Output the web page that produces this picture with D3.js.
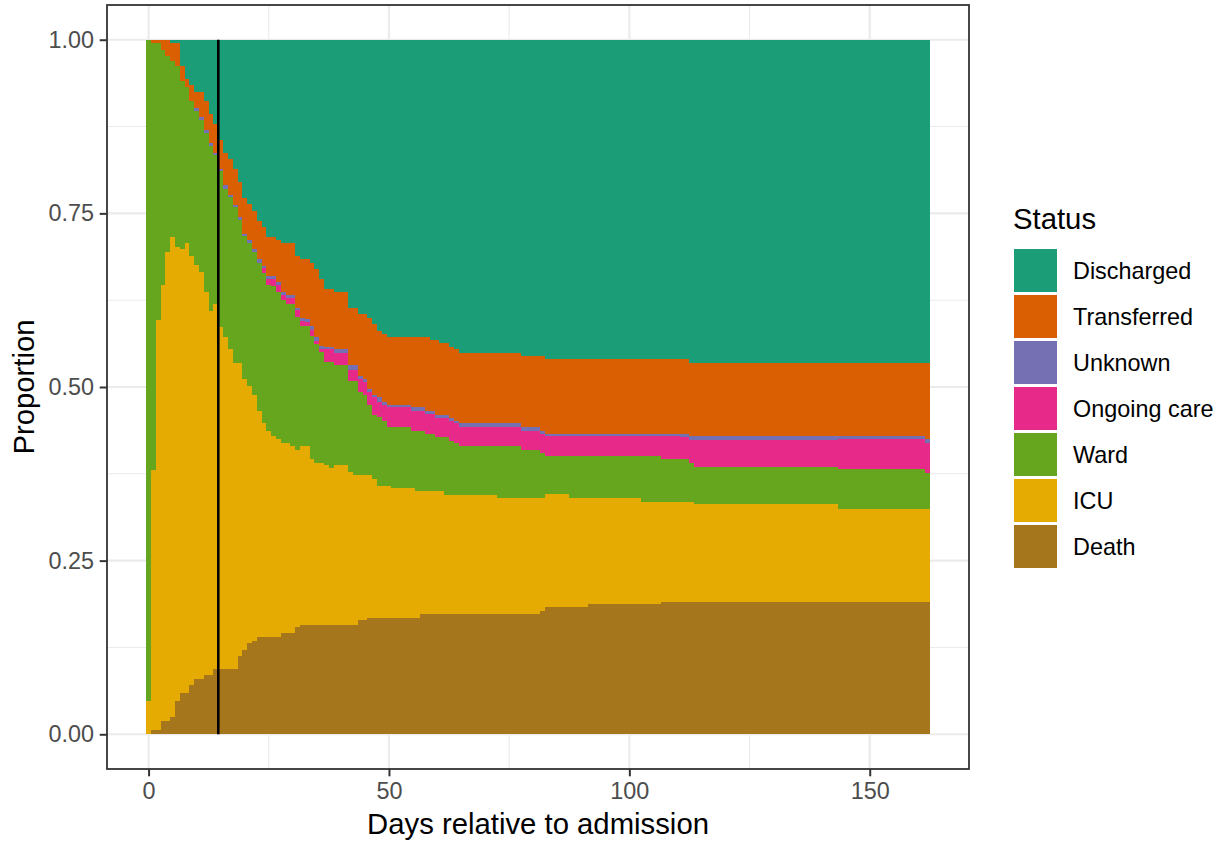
<!DOCTYPE html>
<html>
<head>
<meta charset="utf-8">
<script src="https://cdn.jsdelivr.net/npm/d3@7"></script>
<style>
body{margin:0;background:#fff}
text{font-family:"Liberation Sans",Arial,sans-serif}
</style>
</head>
<body>
<svg id="chart" width="1227" height="844"></svg>
<script>
// legend order (top to bottom) and stacking order (bottom to top)
const statuses = ["Discharged","Transferred","Unknown","Ongoing care","Ward","ICU","Death"];
const stackOrder = ["Death","ICU","Ward","Ongoing care","Unknown","Transferred","Discharged"];
const colours = ["#1B9E77","#D95F02","#7570B3","#E7298A","#66A61E","#E6AB02","#A6761D"];
const dayCount = 163;
const xTicks = [0,50,100,150];
const yTicks = [0,0.25,0.5,0.75,1];
const cutoffDay = 14.5;

// cumulative proportion at the top of each status, as [first day, value] steps
const deathTop = [[0,0],[1,0.006],[3,0.019],[5,0.0245],[6,0.0475],[7,0.060],[9,0.0705],[10,0.079],[12,0.085],[14,0.0935],[19,0.112],[20,0.122],[21,0.131],[22,0.135],[23,0.1395],[28,0.1453],[31,0.154],[32,0.158],[44,0.164],[46,0.168],[57,0.1727],[82,0.177],[83,0.1827],[92,0.187],[107,0.191]];
const icuTop = [[0,0.048],[1,0.381],[2,0.596],[3,0.6475],[4,0.694],[5,0.7166],[6,0.702],[7,0.698],[8,0.708],[9,0.688],[10,0.675],[11,0.666],[12,0.637],[13,0.610],[14,0.619],[15,0.587],[16,0.5727],[17,0.554],[18,0.535],[20,0.512],[21,0.502],[22,0.489],[23,0.466],[24,0.4475],[25,0.437],[26,0.4288],[27,0.4245],[28,0.4187],[30,0.4144],[31,0.41],[32,0.4144],[34,0.3957],[35,0.391],[37,0.387],[38,0.3827],[39,0.387],[42,0.3774],[43,0.3727],[47,0.367],[48,0.358],[51,0.354],[56,0.3496],[62,0.3439],[73,0.3396],[83,0.3453],[88,0.3396],[103,0.335],[114,0.331],[144,0.325]];
const wardTop = [[0,1],[1,0.995],[3,0.9856],[4,0.977],[5,0.9688],[6,0.962],[7,0.940],[8,0.932],[9,0.912],[10,0.898],[11,0.8844],[12,0.866],[13,0.8465],[14,0.8335],[15,0.8105],[16,0.7856],[17,0.773],[18,0.7587],[19,0.740],[20,0.717],[21,0.708],[22,0.694],[23,0.679],[24,0.6643],[25,0.647],[26,0.645],[27,0.6374],[28,0.625],[29,0.619],[31,0.601],[32,0.5875],[34,0.573],[35,0.562],[36,0.550],[37,0.5357],[39,0.532],[42,0.508],[44,0.4935],[45,0.4888],[46,0.4744],[47,0.46],[48,0.457],[49,0.4514],[50,0.4417],[55,0.437],[58,0.433],[60,0.4273],[61,0.428],[63,0.4225],[64,0.4187],[65,0.4144],[78,0.410],[82,0.4053],[83,0.400],[107,0.3957],[113,0.3909],[114,0.385],[144,0.3813],[162,0.3765]];
const ongoingTop = [[24,0.671],[25,0.6557],[27,0.647],[28,0.6326],[29,0.6288],[31,0.6105],[32,0.5952],[33,0.594],[34,0.5818],[35,0.5665],[36,0.554],[39,0.549],[42,0.525],[44,0.5118],[45,0.507],[46,0.4935],[47,0.4849],[48,0.4791],[49,0.4744],[50,0.4705],[55,0.4657],[58,0.4609],[60,0.456],[63,0.4513],[64,0.4475],[65,0.4417],[78,0.437],[82,0.433],[83,0.4288],[111,0.4283],[113,0.423],[144,0.4245],[162,0.4187]];
const unknownTop = [[10,0.902],[11,0.8888],[12,0.8705],[13,0.851],[14,0.837],[15,0.814],[16,0.791],[17,0.777],[18,0.7626],[19,0.745],[20,0.721],[21,0.712],[22,0.698],[23,0.6844],[24,0.6748],[25,0.6604],[26,0.660],[27,0.6518],[28,0.6374],[29,0.6326],[31,0.6144],[32,0.600],[33,0.598],[34,0.5875],[35,0.572],[36,0.5587],[37,0.5578],[39,0.554],[42,0.531],[44,0.5165],[45,0.5118],[46,0.4974],[47,0.4888],[48,0.4849],[49,0.4791],[50,0.4744],[55,0.4705],[58,0.4657],[60,0.46],[63,0.456],[64,0.4513],[65,0.4475],[78,0.4427],[82,0.437],[83,0.433],[113,0.4288],[162,0.4245]];
const transferredTop = [[0,1],[5,0.995],[7,0.9626],[8,0.9434],[9,0.9348],[10,0.9252],[12,0.912],[13,0.8935],[14,0.879],[15,0.856],[16,0.837],[17,0.828],[18,0.814],[19,0.7957],[20,0.772],[21,0.764],[22,0.7535],[23,0.739],[24,0.7305],[25,0.716],[27,0.712],[28,0.7075],[31,0.689],[32,0.6844],[34,0.6786],[35,0.670],[36,0.6557],[37,0.6413],[39,0.6374],[42,0.6144],[44,0.6058],[46,0.600],[47,0.5914],[48,0.5808],[49,0.577],[50,0.5722],[59,0.5683],[61,0.5636],[63,0.558],[64,0.554],[65,0.549],[78,0.5453],[83,0.5396],[113,0.5348]];

// value held on a given day (null before the first step)
const valueOn = (steps, day) => {
  let v = null;
  for (const [d0, val] of steps) if (d0 <= day) v = val;
  return v;
};

const rows = d3.range(dayCount).map(day => {
  const D = valueOn(deathTop, day), I = valueOn(icuTop, day), W = valueOn(wardTop, day);
  const O = valueOn(ongoingTop, day) ?? W;
  const U = valueOn(unknownTop, day) ?? O;
  const T = valueOn(transferredTop, day);
  return {day, "Death": D, "ICU": I - D, "Ward": W - I, "Ongoing care": O - W,
          "Unknown": U - O, "Transferred": T - U, "Discharged": 1 - T};
});

const panel = {left:107, right:969, top:5, bottom:769};
const svg = d3.select("#chart");

const x = d3.scaleLinear().domain([-8.65, 170.65]).range([panel.left, panel.right]);
const y = d3.scaleLinear().domain([-0.05, 1.05]).range([panel.bottom, panel.top]);
const colour = d3.scaleOrdinal().domain(statuses).range(colours);

// grid
const grid = svg.append("g");
[25,75,125].forEach(v => grid.append("line").attr("x1",x(v)).attr("x2",x(v)).attr("y1",panel.top).attr("y2",panel.bottom)
  .attr("stroke","#EBEBEB").attr("stroke-width",1.1));
[0.125,0.375,0.625,0.875].forEach(v => grid.append("line").attr("y1",y(v)).attr("y2",y(v)).attr("x1",panel.left).attr("x2",panel.right)
  .attr("stroke","#EBEBEB").attr("stroke-width",1.1));
xTicks.forEach(v => grid.append("line").attr("x1",x(v)).attr("x2",x(v)).attr("y1",panel.top).attr("y2",panel.bottom)
  .attr("stroke","#EBEBEB").attr("stroke-width",2.2));
yTicks.forEach(v => grid.append("line").attr("y1",y(v)).attr("y2",y(v)).attr("x1",panel.left).attr("x2",panel.right)
  .attr("stroke","#EBEBEB").attr("stroke-width",2.2));

// stacked bars
const series = d3.stack().keys(stackOrder)(rows);
svg.append("g").attr("shape-rendering","crispEdges")
  .selectAll("g").data(series).join("g")
  .attr("fill", s => colour(s.key))
  .selectAll("rect").data(s => s.filter(d => d[1] - d[0] > 0.0001)).join("rect")
  .attr("x", d => x(d.data.day - 0.5))
  .attr("width", d => x(d.data.day + 0.5) - x(d.data.day - 0.5))
  .attr("y", d => y(d[1]))
  .attr("height", d => y(d[0]) - y(d[1]));

// cut-off line
svg.append("line").attr("x1",x(cutoffDay)).attr("x2",x(cutoffDay)).attr("y1",y(0)).attr("y2",y(1))
  .attr("stroke","#000").attr("stroke-width",2.6);

// panel border
svg.append("rect").attr("x",panel.left).attr("y",panel.top)
  .attr("width",panel.right-panel.left).attr("height",panel.bottom-panel.top)
  .attr("fill","none").attr("stroke","#333333").attr("stroke-width",1.8);

// axes
const styleAxis = g => {
  g.select(".domain").remove();
  g.selectAll(".tick line").attr("stroke","#333333").attr("stroke-width",2);
  g.selectAll(".tick text").attr("fill","#4D4D4D").attr("font-size","23.4px")
    .attr("font-family","'Liberation Sans',Arial,sans-serif");
};
svg.append("g").attr("transform",`translate(0,${panel.bottom})`)
  .call(d3.axisBottom(x).tickValues(xTicks).tickFormat(d3.format("d")).tickSize(7.3).tickPadding(5.8))
  .call(styleAxis);
svg.append("g").attr("transform",`translate(${panel.left},0)`)
  .call(d3.axisLeft(y).tickValues(yTicks).tickFormat(d3.format(".2f")).tickSize(7.3).tickPadding(5.8))
  .call(styleAxis);

// axis titles
svg.append("text").attr("x",(panel.left+panel.right)/2).attr("y",834).attr("text-anchor","middle")
  .attr("font-size","29.3px").attr("fill","#000").text("Days relative to admission");
svg.append("text").attr("transform",`translate(34,${(panel.top+panel.bottom)/2}) rotate(-90)`)
  .attr("text-anchor","middle").attr("font-size","29.3px").attr("fill","#000").text("Proportion");

// legend
const legend = svg.append("g");
legend.append("text").attr("x",1013).attr("y",229).attr("font-size","29.3px").attr("fill","#000").text("Status");
const item = legend.selectAll("g.item").data(statuses).join("g").attr("class","item")
  .attr("transform",(d,i)=>`translate(1014,${249 + i*46})`);
item.append("rect").attr("width",43).attr("height",43).attr("fill",d=>colour(d));
item.append("text").attr("x",59).attr("y",21.5).attr("dy","0.35em").attr("font-size","23.4px").attr("fill","#000").text(d=>d);
</script>
</body>
</html>
